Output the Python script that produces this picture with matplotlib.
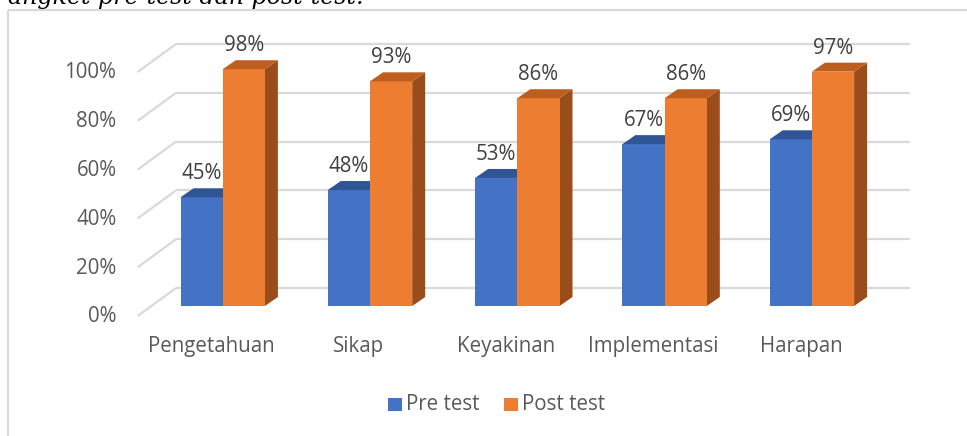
import matplotlib
matplotlib.use('Agg')
import matplotlib.pyplot as plt
from matplotlib.patches import Polygon, Rectangle

categories = ['Pengetahuan', 'Sikap', 'Keyakinan', 'Implementasi', 'Harapan']
pre_test = [45, 48, 53, 67, 69]
post_test = [98, 93, 86, 86, 97]
series_names = ['Pre test', 'Post test']
y_ticks = [0, 20, 40, 60, 80, 100]
y_tick_labels = ['0%', '20%', '40%', '60%', '80%', '100%']
caption = 'angket pre-test dan post-test.'

# colours
front_cols = ['#4472C4', '#ED7D31']
top_cols = ['#2F5597', '#BD5E1F']
side_cols = ['#2B4C85', '#9A4C1B']
grid_col = '#D9D9D9'
tick_col = '#595959'
label_col = '#404040'

FONT = ['Open Sans', 'DejaVu Sans']
FS = 14.8

W, H, DPI = 967, 436, 100
fig = plt.figure(figsize=(W / DPI, H / DPI), dpi=DPI)
fig.patch.set_facecolor('white')
ax = fig.add_axes([0, 0, 1, 1])
ax.set_axis_off()

# pixel layout helpers (layout only)
X0, XS = 222.7, 147.3     # first category centre, px per category
Y0, YS = 306.0, 2.416     # 0% baseline of bars, px per percent
def ux(px):
    return (px - X0) / XS
def uy(py):
    return (Y0 - py) / YS
ax.set_xlim(ux(0), ux(W))
ax.set_ylim(uy(H), uy(0))

# back wall grid + floor diagonals
wall_x0, wall_x1, front_x = ux(176), ux(910), ux(137.7)
wall_scale = 2.44 / YS
wall_off = (Y0 - 288) / YS
front_off = (Y0 - 316) / YS
for v, lab in zip(y_ticks, y_tick_labels):
    yw = wall_off + v * wall_scale
    yf = front_off + v * wall_scale
    ax.plot([wall_x0, wall_x1], [yw, yw], color=grid_col, lw=1.6, zorder=1,
            solid_capstyle='butt')
    ax.plot([front_x, wall_x0], [yf, yw], color=grid_col, lw=1.6, zorder=1,
            solid_capstyle='butt')
    ax.text(ux(116.5), yf - 0.4, lab, ha='right', va='center', fontsize=FS,
            color=tick_col, family=FONT)

# 3D-looking bars
bw = 42.2 / XS
dx, dy = 13 / XS, 9 / YS
x = list(range(len(categories)))
for s, vals in enumerate([pre_test, post_test]):
    offs = -bw if s == 0 else 0.0
    lefts = [xi + offs for xi in x]
    ax.bar(lefts, vals, width=bw, align='edge', color=front_cols[s],
           zorder=3 + 2 * s, linewidth=0)
    for l, v in zip(lefts, vals):
        r = l + bw
        ax.add_patch(Polygon([(l, v), (r, v), (r + dx, v + dy), (l + dx, v + dy)],
                             closed=True, facecolor=top_cols[s], lw=0,
                             zorder=3 + 2 * s))
        ax.add_patch(Polygon([(r, 0), (r, v), (r + dx, v + dy), (r + dx, dy)],
                             closed=True, facecolor=side_cols[s], lw=0,
                             zorder=2 + 2 * s))
        ax.text(l + bw / 2, v + (9 + 14.5) / YS, f'{v}%', ha='center',
                va='center', fontsize=FS, color=label_col, family=FONT,
                zorder=10)

# category labels
for xi, c in zip(x, categories):
    ax.text(xi - 11 / XS, uy(346), c, ha='center', va='center', fontsize=FS,
            color=tick_col, family=FONT)

# legend
def fx(px):
    return px / W
def fy(py):
    return 1 - py / H
for name, col, sq_x, tx in [(series_names[0], front_cols[0], 388, 406),
                            (series_names[1], front_cols[1], 504, 522)]:
    fig.patches.append(Rectangle((fx(sq_x), fy(411)), 13.5 / W, 13.5 / H,
                                 transform=fig.transFigure, facecolor=col,
                                 lw=0))
    fig.text(fx(tx), fy(404.5), name, ha='left', va='center', fontsize=FS,
             color=tick_col, family=FONT)

# chart frame (left & top edges visible)
ax.plot([ux(7.5), ux(7.5)], [uy(H), uy(9.5)], color=grid_col, lw=1.5,
        solid_capstyle='butt', zorder=0)
ax.plot([ux(7.5), ux(W)], [uy(9.5), uy(9.5)], color=grid_col, lw=1.5,
        solid_capstyle='butt', zorder=0)

# cut-off document text above the chart (italic serif, width fitted)
cap = fig.text(fx(8), fy(4.0), caption, ha='left', va='baseline', fontsize=20,
               style='italic', color='#000000',
               family=['DejaVu Serif', 'Liberation Serif'])
fig.canvas.draw()
wpx = cap.get_window_extent(fig.canvas.get_renderer()).width
cap.set_fontsize(20 * 355.0 / wpx)

fig.savefig('out.png', dpi=DPI, facecolor='white')
